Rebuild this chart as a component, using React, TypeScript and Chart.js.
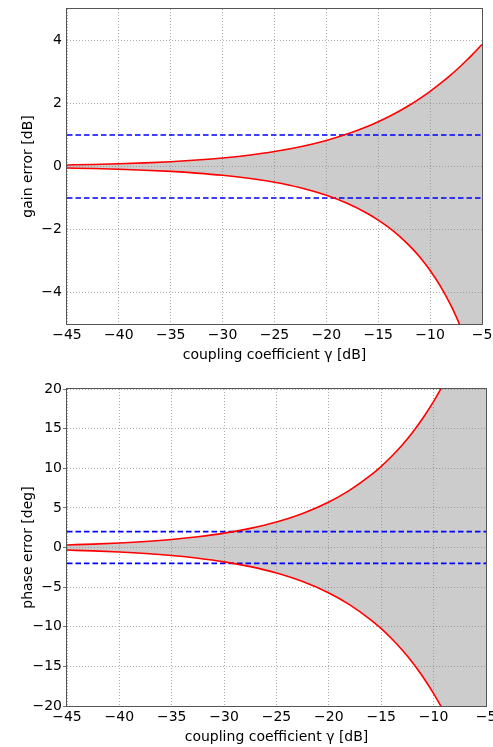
import React, { useEffect, useRef } from 'react';
import { Chart, registerables } from 'chart.js';

Chart.register(...registerables);

// coupling coefficient gamma [dB]
const gainX = [-45, -42.5, -40, -37.5, -35, -32.5, -30, -27.5, -25, -22.5, -20, -18, -16, -15, -14, -13, -12, -11, -10, -9, -8, -7.5, -7, -6.5, -6, -5.5, -5];
const gainUpper = [0.049, 0.065, 0.086, 0.115, 0.153, 0.204, 0.270, 0.359, 0.475, 0.628, 0.828, 1.030, 1.278, 1.423, 1.580, 1.755, 1.946, 2.157, 2.387, 2.638, 2.911, 3.055, 3.207, 3.365, 3.529, 3.699, 3.875];
const gainLower = [-0.049, -0.065, -0.087, -0.117, -0.156, -0.209, -0.279, -0.374, -0.502, -0.677, -0.915, -1.169, -1.499, -1.701, -1.933, -2.202, -2.513, -2.875, -3.302, -3.806, -4.409, -4.756, -5.141, -5.566, -6.041, -6.574, -7.178];

const phaseX = [-45, -42.5, -40, -37.5, -35, -32.5, -30, -27.5, -25, -22.5, -20, -18, -16, -15, -14, -13, -12, -11, -10, -9, -8, -7, -6, -5];
const phaseUpper = [0.322, 0.430, 0.573, 0.764, 1.019, 1.359, 1.812, 2.417, 3.224, 4.301, 5.739, 7.232, 9.119, 10.243, 11.509, 12.937, 14.548, 16.370, 18.435, 20.78, 23.46, 26.53, 30.08, 34.22];
const phaseLower = [-0.322, -0.430, -0.573, -0.764, -1.019, -1.359, -1.812, -2.417, -3.224, -4.301, -5.739, -7.232, -9.119, -10.243, -11.509, -12.937, -14.548, -16.370, -18.435, -20.78, -23.46, -26.53, -30.08, -34.22];

const gainLimits = [1, -1];
const phaseLimits = [2, -2];

const xTicks = [-45, -40, -35, -30, -25, -20, -15, -10, -5];
const gainTicks = [-4, -2, 0, 2, 4];
const phaseTicks = [-20, -15, -10, -5, 0, 5, 10, 15, 20];

const xTitle = 'coupling coefficient γ [dB]';
const gainTitle = 'gain error [dB]';
const phaseTitle = 'phase error [deg]';

const FONT = { family: 'DejaVu Sans', size: 14 };
const fmt = (v: any) => String(v).replace('-', '\u2212');

const framePlugin = {
  id: 'frame',
  afterDatasetsDraw(chart: any) {
    const { ctx, chartArea } = chart;
    ctx.save();
    ctx.strokeStyle = '#555';
    ctx.lineWidth = 1;
    ctx.setLineDash([]);
    ctx.strokeRect(chartArea.left - 0.5, chartArea.top - 0.5, chartArea.right - chartArea.left + 1, chartArea.bottom - chartArea.top + 1);
    ctx.restore();
  },
};

function makeConfig(p: any) {
  const xMin = xTicks[0];
  const xMax = xTicks[xTicks.length - 1];
  const pts = (ys: number[]) => p.xs.map((x: number, i: number) => ({ x, y: ys[i] }));
  const limitDs = (v: number) => ({
    data: [{ x: xMin, y: v }, { x: xMax, y: v }],
    borderColor: '#0000ff',
    borderWidth: 1.6,
    borderDash: [5.5, 3],
    pointRadius: 0,
    fill: false,
  });
  return {
    type: 'line',
    data: {
      datasets: [
        {
          data: pts(p.upper),
          borderColor: '#ff0000',
          borderWidth: 1.6,
          pointRadius: 0,
          cubicInterpolationMode: 'monotone',
          fill: '+1',
          backgroundColor: 'rgba(128,128,128,0.4)',
        },
        {
          data: pts(p.lower),
          borderColor: '#ff0000',
          borderWidth: 1.6,
          pointRadius: 0,
          cubicInterpolationMode: 'monotone',
          fill: false,
        },
        limitDs(p.limits[0]),
        limitDs(p.limits[1]),
      ],
    },
    options: {
      animation: false,
      responsive: false,
      events: [],
      layout: { padding: { top: p.padTop, right: p.padRight, left: 0, bottom: 0 } },
      plugins: {
        legend: { display: false },
        tooltip: { enabled: false },
        filler: { drawTime: 'beforeDatasetsDraw' },
      },
      scales: {
        x: {
          type: 'linear',
          min: xMin,
          max: xMax,
          afterBuildTicks: (s: any) => { s.ticks = xTicks.map((v) => ({ value: v })); },
          afterFit: (s: any) => { s.height = p.xAxisHeight; s.paddingLeft = 0; s.paddingRight = 0; },
          ticks: { callback: fmt, font: FONT, color: '#000', padding: 3, maxRotation: 0, autoSkip: false },
          grid: { color: 'rgba(0,0,0,0.32)', lineWidth: 1, drawTicks: false },
          border: { display: false, dash: [1, 2] },
          title: { display: true, text: xTitle, font: FONT, color: '#000', padding: { top: 0, bottom: p.xTitlePad } },
        },
        y: {
          type: 'linear',
          min: p.yMin,
          max: p.yMax,
          afterBuildTicks: (s: any) => { s.ticks = p.yTicks.map((v: number) => ({ value: v })); },
          afterFit: (s: any) => { s.width = 67; s.paddingTop = 0; s.paddingBottom = 0; },
          ticks: { callback: fmt, font: FONT, color: '#000', padding: p.yTickMarks ? 1 : 5, autoSkip: false },
          grid: {
            color: 'rgba(0,0,0,0.32)',
            lineWidth: 1,
            drawTicks: p.yTickMarks,
            tickLength: 4,
            tickColor: '#777',
            tickBorderDash: [],
          },
          border: { display: false, dash: [1, 2] },
          title: { display: true, text: p.yTitle, font: FONT, color: '#000', padding: { top: 20, bottom: 0 } },
        },
      },
    },
    plugins: [framePlugin],
  };
}

function Plot(props: any) {
  const ref = useRef<HTMLCanvasElement>(null);
  useEffect(() => {
    if (!ref.current) return;
    const chart = new Chart(ref.current, makeConfig(props.cfg) as any);
    return () => chart.destroy();
  }, []);
  return (
    <canvas
      ref={ref}
      width={493}
      height={props.height}
      style={{ position: 'absolute', left: 0, top: props.top, width: 493, height: props.height, display: 'block' }}
    />
  );
}

export default function App() {
  return (
    <div style={{ position: 'absolute', left: 0, top: 0, width: 493, height: 747, background: '#fff', overflow: 'hidden' }}>
      <Plot
        top={0}
        height={370}
        cfg={{
          xs: gainX, upper: gainUpper, lower: gainLower, limits: gainLimits,
          yMin: -5, yMax: 5, yTicks: gainTicks, yTitle: gainTitle,
          padTop: 9, padRight: 11, xAxisHeight: 46, xTitlePad: 6, yTickMarks: false,
        }}
      />
      <Plot
        top={370}
        height={377}
        cfg={{
          xs: phaseX, upper: phaseUpper, lower: phaseLower, limits: phaseLimits,
          yMin: -20, yMax: 20, yTicks: phaseTicks, yTitle: phaseTitle,
          padTop: 19, padRight: 7, xAxisHeight: 41, xTitlePad: 1.6, yTickMarks: true,
        }}
      />
    </div>
  );
}
